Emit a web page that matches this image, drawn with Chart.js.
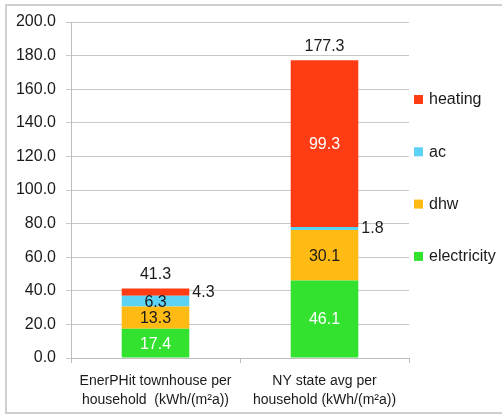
<!DOCTYPE html>
<html>
<head>
<meta charset="utf-8">
<script src="https://cdn.jsdelivr.net/npm/chart.js@4.4.1/dist/chart.umd.min.js"></script>
<style>
  body { margin: 0; background: #fff; }
  #marco {
    position: absolute; left: 5px; top: 4px; width: 520px; height: 406px;
    border: 2px solid #cfcfcf;
  }
  #grafico { position: absolute; left: 0; top: 0; }
</style>
</head>
<body>
<div id="marco"></div>
<canvas id="grafico" width="502" height="414"></canvas>
<script>
// datos
const categorias = [
    ["EnerPHit townhouse per", "household  (kWh/(m\u00b2a))"],
    ["NY state avg per", "household (kWh/(m\u00b2a))"],
];
const electricidad = [17.4, 46.1];
const dhw = [13.3, 30.1];
const ac = [6.3, 1.8];
const calefaccion = [4.3, 99.3];
const ticksY = [0, 20, 40, 60, 80, 100, 120, 140, 160, 180, 200];

const FUENTE = "'Liberation Sans', Arial, sans-serif";
const TEXTO = "#1a1a1a";

const series = [
    { label: "electricity", data: electricidad, color: "#33e22e", texto: "#ffffff" },
    { label: "dhw", data: dhw, color: "#ffbb14", texto: TEXTO },
    { label: "ac", data: ac, color: "#5cd2f4", texto: TEXTO },
    { label: "heating", data: calefaccion, color: "#ff3c14", texto: "#ffffff" },
];

// etiquetas de valores, totales y leyenda
const pluginEtiquetas = {
    id: "etiquetas",
    afterDatasetsDraw(chart) {
        const ctx = chart.ctx;
        ctx.save();
        ctx.font = "16px " + FUENTE;
        ctx.textBaseline = "middle";
        const topes = [];
        chart.data.datasets.forEach((ds, i) => {
            const meta = chart.getDatasetMeta(i);
            meta.data.forEach((barra, j) => {
                const alto = Math.abs(barra.base - barra.y);
                const texto = ds.data[j].toFixed(1);
                const yc = (barra.y + barra.base) / 2;
                if (alto < 9) {
                    // segmentos muy finos: etiqueta a la derecha
                    ctx.fillStyle = TEXTO;
                    ctx.textAlign = "left";
                    ctx.fillText(texto, barra.x + barra.width / 2 + 3, yc);
                } else {
                    ctx.fillStyle = series[i].texto;
                    ctx.textAlign = "center";
                    ctx.fillText(texto, barra.x, yc + 1);
                }
                topes[j] = Math.min(topes[j] ?? Infinity, barra.y);
            });
        });
        // totales encima de cada barra
        ctx.fillStyle = TEXTO;
        ctx.textAlign = "center";
        categorias.forEach((c, j) => {
            const total = series.reduce((s, d) => s + d.data[j], 0);
            const x = chart.getDatasetMeta(0).data[j].x;
            ctx.fillText(total.toFixed(1), x, topes[j] - 14);
        });
        // leyenda (de arriba hacia abajo: heating, ac, dhw, electricity)
        const x0 = chart.chartArea.right + 5;
        series.slice().reverse().forEach((s, k) => {
            const y = 100 + k * 52.3;
            ctx.fillStyle = s.color;
            ctx.fillRect(x0, y - 5, 9, 9);
            ctx.fillStyle = TEXTO;
            ctx.textAlign = "left";
            ctx.fillText(s.label, x0 + 15, y);
        });
        ctx.restore();
    },
};

new Chart(document.getElementById("grafico").getContext("2d"), {
    type: "bar",
    data: {
        labels: categorias,
        datasets: series.map((s) => ({
            label: s.label,
            data: s.data,
            backgroundColor: s.color,
            borderWidth: 0,
            barPercentage: 0.4,
            categoryPercentage: 1,
        })),
    },
    options: {
        responsive: false,
        animation: false,
        devicePixelRatio: 1,
        layout: { padding: { top: 22, right: 93, bottom: 0, left: 0 } },
        plugins: {
            legend: { display: false },
            tooltip: { enabled: false },
        },
        scales: {
            x: {
                stacked: true,
                afterFit: (escala) => { escala.height = 56; },
                grid: { drawOnChartArea: false, offset: true, tickLength: 5, color: "#bdbdbd" },
                border: { color: "#bdbdbd" },
                ticks: {
                    color: TEXTO,
                    padding: 8,
                    maxRotation: 0,
                    font: { family: FUENTE, size: 14, lineHeight: 1.4 },
                },
            },
            y: {
                stacked: true,
                min: 0,
                max: 200,
                afterFit: (escala) => { escala.width = 71; },
                afterBuildTicks: (escala) => {
                    escala.ticks = ticksY.map((v) => ({ value: v }));
                },
                grid: { color: "#c8c8c8", tickLength: 5 },
                border: { color: "#bdbdbd" },
                ticks: {
                    color: TEXTO,
                    padding: 10,
                    font: { family: FUENTE, size: 16 },
                    callback: (v) => Number(v).toFixed(1),
                },
            },
        },
    },
    plugins: [pluginEtiquetas],
});
</script>
</body>
</html>
